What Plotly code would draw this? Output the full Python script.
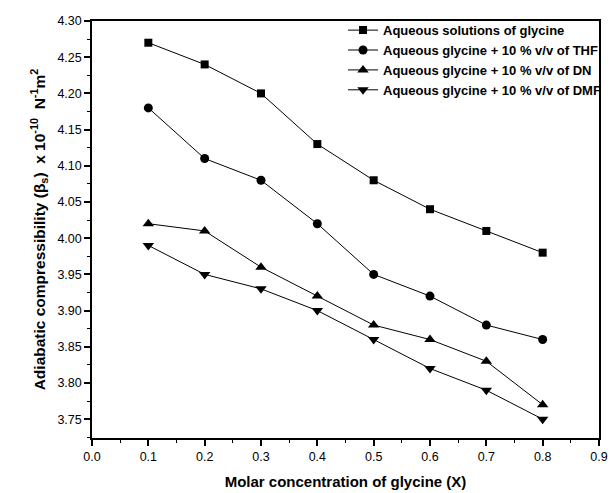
import plotly.graph_objects as go

x_vals = [0.1, 0.2, 0.3, 0.4, 0.5, 0.6, 0.7, 0.8]
aqueous = [4.27, 4.24, 4.20, 4.13, 4.08, 4.04, 4.01, 3.98]
thf = [4.18, 4.11, 4.08, 4.02, 3.95, 3.92, 3.88, 3.86]
dn = [4.02, 4.01, 3.96, 3.92, 3.88, 3.86, 3.83, 3.77]
dmf = [3.99, 3.95, 3.93, 3.90, 3.86, 3.82, 3.79, 3.75]
names = [
    "Aqueous solutions of glycine",
    "Aqueous glycine + 10 % v/v of THF",
    "Aqueous glycine + 10 % v/v of DN",
    "Aqueous glycine + 10 % v/v of DMF",
]
symbols = ["square", "circle", "triangle-up", "triangle-down"]
sizes = [8, 9, 10, 10]
series = [aqueous, thf, dn, dmf]

fig = go.Figure()
for name, ys, sym, sz in zip(names, series, symbols, sizes):
    fig.add_trace(go.Scatter(
        x=x_vals, y=ys, mode="lines+markers", name=name,
        line=dict(color="black", width=1),
        marker=dict(symbol=sym, size=sz, color="black"),
    ))

font_family = "Liberation Sans, Arial, sans-serif"
fig.update_layout(
    width=613, height=493,
    margin=dict(l=92, r=0, t=21, b=55),
    paper_bgcolor="white", plot_bgcolor="white",
    font=dict(family=font_family, color="black", size=12),
    showlegend=True,
    legend=dict(
        x=0.9866, xanchor="right", y=1.014, yanchor="top",
        bgcolor="rgba(0,0,0,0)", borderwidth=0,
        font=dict(size=13, family=font_family, weight="bold"),
        tracegroupgap=0, itemwidth=30,
    ),
    xaxis=dict(
        domain=[0, 0.9731],
        range=[0, 0.9], dtick=0.1, tickformat=".1f", automargin=False,
        showline=True, linecolor="black", linewidth=1.5, mirror=True,
        ticks="outside", ticklen=6, tickwidth=1.5, tickcolor="black",
        minor=dict(dtick=0.05, ticks="outside", ticklen=3, tickwidth=1, tickcolor="black"),
        showgrid=False, zeroline=False,
        tickfont=dict(size=12.5),
        title=dict(text="<b>Molar concentration of glycine (X)</b>", font=dict(size=15), standoff=14),
    ),
    yaxis=dict(
        range=[3.724, 4.30], tick0=3.75, dtick=0.05, tickformat=".2f", automargin=False,
        showline=True, linecolor="black", linewidth=1.5, mirror=True,
        ticks="outside", ticklen=6, tickwidth=1.5, tickcolor="black",
        minor=dict(dtick=0.025, tick0=3.75, ticks="outside", ticklen=3, tickwidth=1, tickcolor="black"),
        showgrid=False, zeroline=False,
        tickfont=dict(size=12.5),
        title=dict(text="<b>Adiabatic compressibility (β<sub>s</sub>)  x 10<sup>-10</sup>  N<sup>-1</sup>m<sup>2</sup></b>",
                   font=dict(size=15.5), standoff=8),
    ),
)

fig.write_html("out.html")
